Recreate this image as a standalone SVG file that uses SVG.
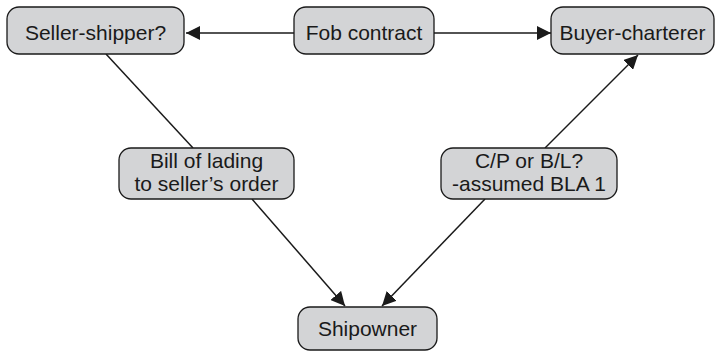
<svg xmlns="http://www.w3.org/2000/svg" width="719" height="354" viewBox="0 0 719 354">
<style>
.box{fill:#d3d4d6;stroke:#1a1a1a;stroke-width:1.3}
.t{font-family:"Liberation Sans",Arial,sans-serif;font-size:21px;fill:#1a1a1a;text-anchor:middle}
.c{stroke:#1a1a1a;stroke-width:1.5;fill:none}
</style>
<defs>
<marker id="ah" viewBox="0 0 10 10" refX="10" refY="5" markerWidth="14" markerHeight="14" markerUnits="userSpaceOnUse" orient="auto">
<path d="M0,0 L10,5 L0,10 z" fill="#1a1a1a"/>
</marker>
</defs>
<rect width="719" height="354" fill="#fff"/>
<g id="connectors">
<line class="c" x1="294" y1="33" x2="186" y2="33" marker-end="url(#ah)"/>
<line class="c" x1="434" y1="33" x2="551" y2="33" marker-end="url(#ah)"/>
<line class="c" x1="106" y1="54" x2="193" y2="148"/>
<line class="c" x1="252" y1="199" x2="345" y2="306" marker-end="url(#ah)"/>
<line class="c" x1="485" y1="199" x2="382" y2="306" marker-end="url(#ah)"/>
<line class="c" x1="545" y1="148" x2="638" y2="55" marker-end="url(#ah)"/>
</g>
<g id="seller">
<rect class="box" x="7" y="7" width="177" height="47" rx="12"/>
<text class="t" x="95.5" y="40">Seller-shipper?</text>
</g>
<g id="fob">
<rect class="box" x="294" y="7" width="140" height="47" rx="12"/>
<text class="t" x="364" y="40">Fob contract</text>
</g>
<g id="buyer">
<rect class="box" x="551" y="7" width="163" height="47" rx="12"/>
<text class="t" x="632.5" y="40">Buyer-charterer</text>
</g>
<g id="bill">
<rect class="box" x="119" y="148" width="175" height="51" rx="12"/>
<text class="t" x="206.5" y="168">Bill of lading</text>
<text class="t" x="206.5" y="191">to seller’s order</text>
</g>
<g id="cp">
<rect class="box" x="441" y="148" width="176" height="51" rx="12"/>
<text class="t" x="529" y="168">C/P or B/L?</text>
<text class="t" x="529" y="191">-assumed BLA 1</text>
</g>
<g id="shipowner">
<rect class="box" x="298" y="307" width="139" height="43" rx="12"/>
<text class="t" x="367.5" y="336">Shipowner</text>
</g>
</svg>
